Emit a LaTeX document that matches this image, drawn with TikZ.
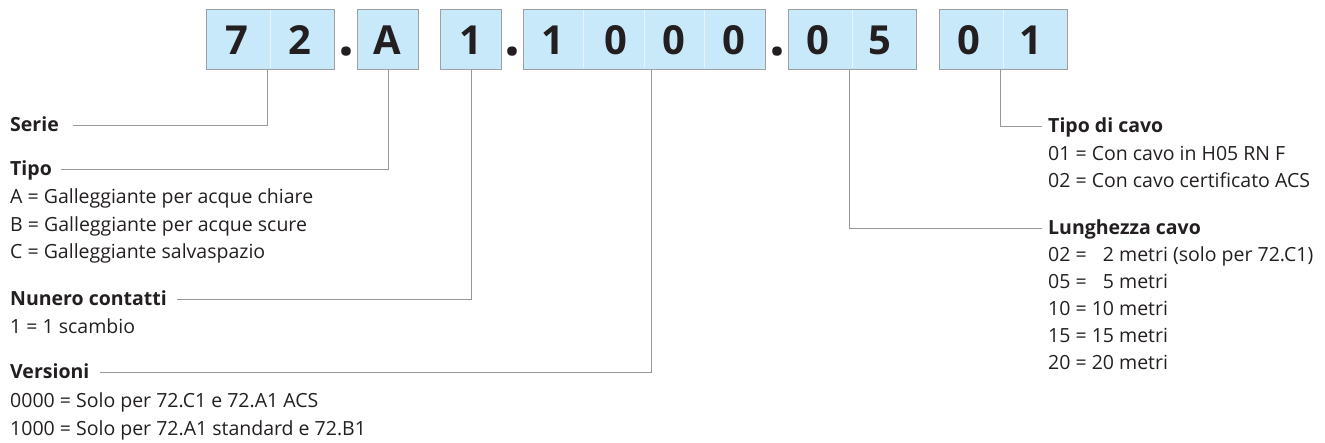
\documentclass[tikz,border=0pt]{standalone}
\usepackage{fontspec}
\setmainfont{Open Sans}
\usetikzlibrary{positioning,calc}
\definecolor{ink}{RGB}{35,31,32}
\definecolor{boxfill}{RGB}{200,233,249}
\definecolor{boxline}{RGB}{157,159,162}
\definecolor{leadgray}{RGB}{150,152,155}
\newcommand{\codefont}{\fontsize{40}{40}\selectfont\bfseries}
\newcommand{\dotfont}{\fontsize{56}{56}\selectfont\bfseries}
\newcommand{\labelsize}{\fontsize{19.5}{24}\selectfont}
\tikzset{
    codebox/.style={draw=boxline, fill=boxfill, line width=1.2pt, minimum height=60pt, inner sep=0pt, anchor=north west},
    cellsep/.style={draw=white!55!boxfill, line width=0.8pt},
    digit/.style={font=\codefont, text=ink, inner sep=0pt, anchor=base},
    sepdot/.style={font=\dotfont, text=ink, inner sep=0pt, anchor=base},
    head/.style={font=\labelsize\bfseries, text=ink, inner sep=0pt, anchor=base west},
    item/.style={font=\labelsize, text=ink, inner sep=0pt, anchor=base west},
    lead/.style={draw=leadgray, line width=1.2pt}
}

\begin{document}
\begin{tikzpicture}[x=1pt,y=-1pt]
\useasboundingbox (0,0) rectangle (1325,443);
% code boxes
\node[codebox, minimum width=128pt] (b72) at (206,9) {};
\node[codebox, minimum width=61pt] (bA) at (357,9) {};
\node[codebox, minimum width=61pt] (b1) at (440,9) {};
\node[codebox, minimum width=242pt] (b1000) at (523,9) {};
\node[codebox, minimum width=128pt] (b05) at (788,9) {};
\node[codebox, minimum width=128pt] (b01) at (939,9) {};
\foreach \x in {270,583.5,644,704.5,852,1003}
    \draw[cellsep] (\x,10) -- (\x,68);
\foreach \x/\c [count=\i] in {237/7,300/2,387.5/A,470.5/1,553/1,616/0,674/0,734/0,818/0,880/5,969/0,1031/1}
    \node[digit] (c\i) at (\x,55) {\c};
\foreach \x [count=\i] in {346,512,777}
    \node[sepdot] (dot\i) at (\x,56) {.};

% left column
\node[head] (serie) at (10,132) {Serie};
\node[head] (tipo) at (10,176) {Tipo};
\node[item] (tipoA) at (10,204) {A = Galleggiante per acque chiare};
\node[item] (tipoB) at (10,231.5) {B = Galleggiante per acque scure};
\node[item] (tipoC) at (10,259) {C = Galleggiante salvaspazio};
\node[head] (contatti) at (10,306) {Nunero contatti};
\node[item] (contatti1) at (10,334) {1 = 1 scambio};
\node[head] (versioni) at (10,379) {Versioni};
\node[item] (vers0) at (10,407) {0000 = Solo per 72.C1 e 72.A1 ACS};
\node[item] (vers1) at (10,435) {1000 = Solo per 72.A1 standard e 72.B1};

% right column
\node[head] (cavo) at (1048,133) {Tipo di cavo};
\node[item] (cavo1) at (1048,160.5) {01 = Con cavo in H05 RN F};
\node[item] (cavo2) at (1048,188) {02 = Con cavo certificato ACS};
\node[head] (lung) at (1048,235) {Lunghezza cavo};
\node[item] (lung02) at (1048,262) {02 = \hphantom{1}2 metri (solo per 72.C1)};
\node[item] (lung05) at (1048,289) {05 = \hphantom{1}5 metri};
\node[item] (lung10) at (1048,316) {10 = 10 metri};
\node[item] (lung15) at (1048,343) {15 = 15 metri};
\node[item] (lung20) at (1048,370) {20 = 20 metri};

% leaders
\draw[lead] ([xshift=14pt,yshift=6.5pt]serie.base east) -| ([xshift=-3pt]b72.south);
\draw[lead] ([xshift=9pt,yshift=6.5pt]tipo.base east) -| (bA.south);
\draw[lead] ([xshift=10pt,yshift=6.5pt]contatti.base east) -| (b1.south);
\draw[lead] ([xshift=10pt,yshift=6.5pt]versioni.base east) -| ([xshift=7pt]b1000.south);
\draw[lead] ([xshift=-3pt]b05.south) |- ([xshift=-6pt,yshift=6.5pt]lung.base west);
\draw[lead] ([xshift=-3pt]b01.south) |- ([xshift=-6pt,yshift=6.5pt]cavo.base west);
\end{tikzpicture}
\end{document}
